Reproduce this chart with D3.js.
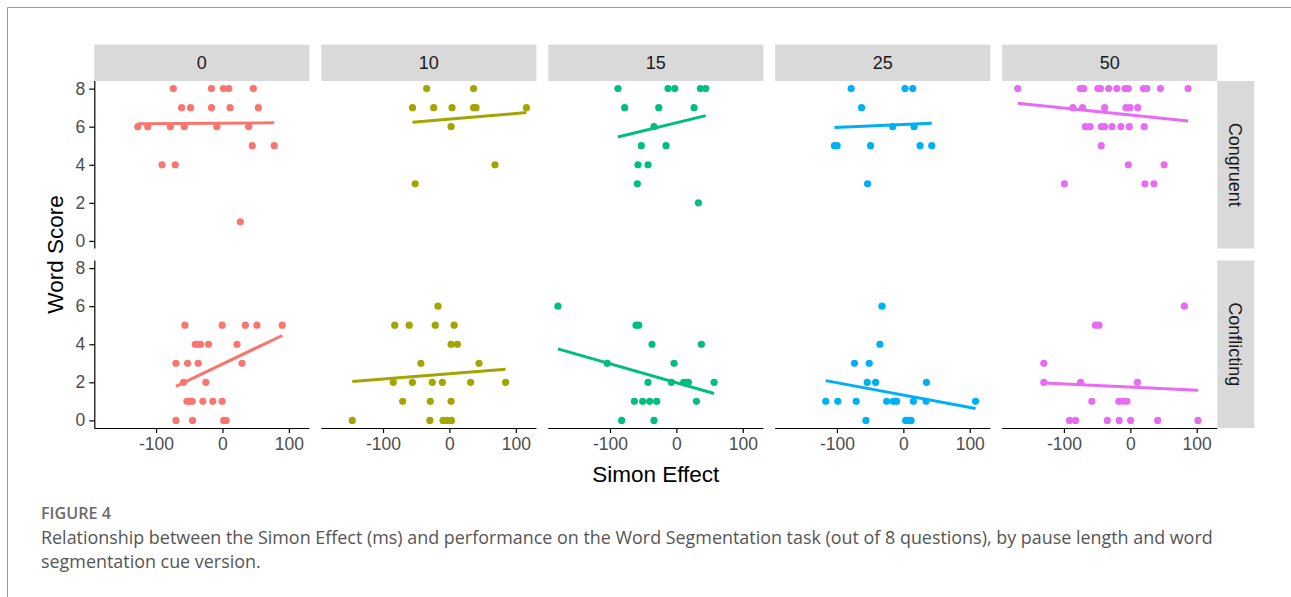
<!DOCTYPE html>
<html>
<head>
<meta charset="utf-8">
<script src="https://cdn.jsdelivr.net/npm/d3@7"></script>
<style>
  html, body { margin: 0; padding: 0; background: #fff; }
  svg { display: block; }
</style>
</head>
<body>
<svg id="chart" width="1291" height="597"></svg>
<script>
// ---------------- DATA ----------------
const pauses = ["0", "10", "15", "25", "50"];
const cues = ["Congruent", "Conflicting"];
const xTicks = [-100, 0, 100];
const yTicks = [0, 2, 4, 6, 8];
const colors = ["#F8766D", "#A3A500", "#00BF7D", "#00B0F6", "#E76BF3"];

// [Simon Effect, Word Score]
const pts_0_congruent = [[-127.5,6],[-112.5,6],[-78.5,6],[-57.5,6],[-8.5,6],[39.5,6],[-74,8],[-16.5,8],[1.5,8],[9.5,8],[46.5,8],[-61.5,7],[-48,7],[-16.5,7],[11.5,7],[54,7],[45,5],[78,5],[-91,4],[-71,4],[27,1]];
const pts_0_conflicting = [[-56.5,5],[-0.5,5],[34.5,5],[52,5],[90,5],[-41,4],[-37,4],[-33,4],[-21,4],[22,4],[-70,3],[-52.5,3],[-36.5,3],[29.5,3],[-58.5,2],[-25,2],[-53.5,1],[-49.5,1],[-45.5,1],[-29.5,1],[-14.5,1],[-0.5,1],[-70,0],[-45,0],[2,0],[5.5,0]];
const pts_10_congruent = [[-34.3,8],[36.4,8],[-55.6,7],[-23.7,7],[4,7],[36.4,7],[40,7],[116,7],[2.5,6],[68.7,4],[-51.5,3]];
const pts_10_conflicting = [[-17.2,6],[-82.3,5],[-60.6,5],[-21.3,5],[7.1,5],[2.5,4],[12.1,4],[-43,3],[44.6,3],[-84.6,2],[-55.7,2],[-25.8,2],[-10.6,2],[31.9,2],[84.6,2],[-70.4,1],[-28.8,1],[2.5,1],[-146.3,0],[-29.4,0],[-9.6,0],[-3.5,0],[3,0]];
const pts_15_congruent = [[-88,8],[-12.6,8],[-2.5,8],[36.2,8],[44.2,8],[-77.9,7],[-26.6,7],[26.6,7],[-33.7,6],[-52.8,5],[-15.6,5],[-57.8,4],[-42.7,4],[-58.8,3],[33.2,2]];
const pts_15_conflicting = [[-178.4,6],[-60.8,5],[-56.8,5],[-36.7,4],[37.7,4],[-104,3],[-3.5,3],[-42.7,2],[-7.5,2],[11,2],[14.6,2],[18,2],[56.8,2],[-63.3,1],[-50.8,1],[-40.2,1],[-29.6,1],[30.2,1],[-82.4,0],[-33.7,0]];
const pts_25_congruent = [[-78.6,8],[2.5,8],[14.1,8],[-63,7],[-16.1,6],[16.1,6],[-103.8,5],[-99.7,5],[-49.4,5],[25.2,5],[42.8,5],[-53.9,3]];
const pts_25_conflicting = [[-32.2,6],[-35.3,4],[-73.6,3],[-51.4,3],[-54.4,2],[-41.8,2],[34.8,2],[-116.9,1],[-98.7,1],[-71,1],[-25.2,1],[-15.1,1],[-10.1,1],[15.1,1],[34.3,1],[108.8,1],[-56.4,0],[3.5,0],[7.6,0],[11.6,0]];
const pts_50_congruent = [[-169.5,8],[-75.3,8],[-70.2,8],[-48.9,8],[-44.8,8],[-32.6,8],[-20.4,8],[-8.1,8],[-3,8],[19.8,8],[24.9,8],[45.3,8],[87,8],[-86.5,7],[-71.8,7],[-38.7,7],[-6.6,7],[-0.5,7],[11.2,7],[-67.7,6],[-60.6,6],[-43.8,6],[-38.7,6],[-27.5,6],[-14.2,6],[-1.5,6],[20.9,6],[-43.8,5],[-3,4],[50.9,4],[-99.2,3],[21.9,3],[35.6,3]];
const pts_50_conflicting = [[81.4,6],[-52.4,5],[-47.3,5],[-130.3,3],[-130.3,2],[-74.8,2],[10.7,2],[-58,1],[-17.3,1],[-10.7,1],[-5.1,1],[-91.6,0],[-82.4,0],[-34.6,0],[-16.8,0],[0.5,0],[41.2,0],[101.8,0]];

// fitted line values at left / right end of each panel's data range
const fit_congruent = [[6.15,6.2],[6.23,6.74],[5.46,6.58],[5.96,6.18],[7.23,6.3]];
const fit_conflicting = [[1.79,4.46],[2.04,2.69],[3.76,1.41],[2.09,0.62],[1.97,1.58]];

const xTitle = "Simon Effect";
const yTitle = "Word Score";
const figLabel = "FIGURE 4";
const captionLines = [
  "Relationship between the Simon Effect (ms) and performance on the Word Segmentation task (out of 8 questions), by pause length and word",
  "segmentation cue version."
];

// ---------------- BUILD ----------------
const panelPoints = {
  "0":  {Congruent: pts_0_congruent,  Conflicting: pts_0_conflicting},
  "10": {Congruent: pts_10_congruent, Conflicting: pts_10_conflicting},
  "15": {Congruent: pts_15_congruent, Conflicting: pts_15_conflicting},
  "25": {Congruent: pts_25_congruent, Conflicting: pts_25_conflicting},
  "50": {Congruent: pts_50_congruent, Conflicting: pts_50_conflicting}
};
const fits = {Congruent: fit_congruent, Conflicting: fit_conflicting};

const svg = d3.select("#chart");
const FONT = "'Liberation Sans', Arial, Helvetica, sans-serif";

// outer frame lines
svg.append("line").attr("x1", 7.5).attr("x2", 7.5).attr("y1", 7.5).attr("y2", 597)
  .attr("stroke", "#9a9a9a").attr("stroke-width", 1);
svg.append("line").attr("x1", 7.5).attr("x2", 1291).attr("y1", 7.5).attr("y2", 7.5)
  .attr("stroke", "#9a9a9a").attr("stroke-width", 1);

const colBand = d3.scaleBand().domain(pauses).range([94.3, 1217.3]).paddingInner(0.0522);
const rowBand = d3.scaleBand().domain(cues).range([81, 428]).paddingInner(0.0669);
const pw = colBand.bandwidth(), ph = rowBand.bandwidth();

const x = d3.scaleLinear().domain([-193, 131]).range([0, pw]);
const y = d3.scaleLinear().domain([-0.4, 8.4]).range([ph, 0]);
const color = d3.scaleOrdinal().domain(pauses).range(colors);

// strips
pauses.forEach(p => {
  const g = svg.append("g").attr("transform", `translate(${colBand(p)},44.7)`);
  g.append("rect").attr("width", pw).attr("height", 81 - 44.7).attr("fill", "#D9D9D9");
  g.append("text").attr("x", pw / 2).attr("y", (81 - 44.7) / 2).attr("dy", "0.36em")
    .attr("text-anchor", "middle").attr("font-family", FONT).attr("font-size", 18)
    .attr("fill", "#1A1A1A").text(p);
});
cues.forEach(c => {
  const g = svg.append("g").attr("transform", `translate(1217.3,${rowBand(c)})`);
  g.append("rect").attr("width", 37).attr("height", ph).attr("fill", "#D9D9D9");
  g.append("text").attr("transform", `translate(18.5,${ph / 2}) rotate(90)`)
    .attr("dy", "0.36em").attr("text-anchor", "middle").attr("font-family", FONT)
    .attr("font-size", 18).attr("fill", "#1A1A1A").text(c);
});

// panels
pauses.forEach((p, i) => {
  cues.forEach(c => {
    const g = svg.append("g").attr("transform", `translate(${colBand(p)},${rowBand(c)})`);
    const data = panelPoints[p][c];
    g.selectAll("circle").data(data).join("circle")
      .attr("cx", d => x(d[0])).attr("cy", d => y(d[1])).attr("r", 3.6)
      .attr("fill", color(p));
    const ext = d3.extent(data, d => d[0]);
    const f = fits[c][i];
    g.append("line")
      .attr("x1", x(ext[0])).attr("y1", y(f[0]))
      .attr("x2", x(ext[1])).attr("y2", y(f[1]))
      .attr("stroke", color(p)).attr("stroke-width", 3).attr("stroke-linecap", "butt");

    // y axis only on first column
    if (i === 0) {
      const ya = g.append("g").call(d3.axisLeft(y).tickValues(yTicks).tickSize(5).tickPadding(4));
      ya.select(".domain").attr("stroke", "#000").attr("stroke-width", 1.2)
        .attr("d", `M0.5,0V${ph}`);
      ya.selectAll(".tick line").attr("stroke", "#000").attr("stroke-width", 1.2);
      ya.selectAll(".tick text").attr("font-family", FONT).attr("font-size", 17.5).attr("fill", "#4D4D4D");
    }
    // x axis only on bottom row
    if (c === "Conflicting") {
      const xa = g.append("g").attr("transform", `translate(0,${ph})`)
        .call(d3.axisBottom(x).tickValues(xTicks).tickSize(5).tickPadding(5).tickFormat(d3.format("d")));
      xa.select(".domain").attr("stroke", "#000").attr("stroke-width", 1.2)
        .attr("d", `M0,0.5H${pw}`);
      xa.selectAll(".tick line").attr("stroke", "#000").attr("stroke-width", 1.2);
      xa.selectAll(".tick text").attr("font-family", FONT).attr("font-size", 17.5).attr("fill", "#4D4D4D")
        .text(d => d < 0 ? "-" + Math.abs(d) : d);
    }
  });
});

// axis titles
svg.append("text").attr("x", (94.3 + 1217.3) / 2).attr("y", 482)
  .attr("text-anchor", "middle").attr("font-family", FONT).attr("font-size", 22.5)
  .attr("fill", "#000").text(xTitle);
svg.append("text").attr("transform", `translate(63,${(81 + 428) / 2}) rotate(-90)`)
  .attr("text-anchor", "middle").attr("font-family", FONT).attr("font-size", 22.5)
  .attr("fill", "#000").text(yTitle);

// caption
const CAPFONT = "'Open Sans', 'Noto Sans', sans-serif";
const fl = svg.append("text").attr("x", 41).attr("y", 519)
  .attr("font-family", CAPFONT).attr("font-weight", 600).attr("font-size", 13)
  .attr("fill", "#6a6a6a").text(figLabel);
const flLen = fl.node().getComputedTextLength();
fl.attr("font-size", 13 * 70 / flLen);

const cap1 = svg.append("text").attr("x", 41).attr("y", 544)
  .attr("font-family", CAPFONT).attr("font-size", 16).attr("fill", "#555").text(captionLines[0]);
const capLen = cap1.node().getComputedTextLength();
const capSize = 16 * 1173 / capLen;
cap1.attr("font-size", capSize);
svg.append("text").attr("x", 41).attr("y", 568)
  .attr("font-family", CAPFONT).attr("font-size", capSize).attr("fill", "#555").text(captionLines[1]);
</script>
</body>
</html>
